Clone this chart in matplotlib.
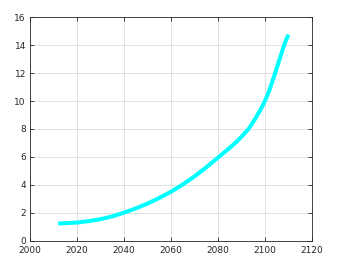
import matplotlib
matplotlib.use("Agg")
import matplotlib.pyplot as plt

years = [2012, 2015, 2020, 2025, 2030, 2035, 2040, 2045, 2050, 2055, 2060, 2065, 2070,
         2075, 2080, 2085, 2088, 2090, 2093, 2096, 2098, 2099, 2100, 2101, 2102, 2104,
         2106, 2108, 2109, 2110]
values = [1.22, 1.24, 1.29, 1.39, 1.53, 1.73, 2.0, 2.3, 2.65, 3.05, 3.5, 4.02, 4.6,
          5.25, 5.95, 6.65, 7.1, 7.45, 8.0, 8.78, 9.36, 9.68, 10.03, 10.42, 10.85, 11.85,
          12.9, 13.95, 14.4, 14.77]
xticks = [2000, 2020, 2040, 2060, 2080, 2100, 2120]
yticks = [0, 2, 4, 6, 8, 10, 12, 14, 16]

fig = plt.figure(figsize=(3.38, 2.67), dpi=100)
ax = fig.add_axes([30/338, 1 - 240.5/267, (312-30)/338, (240.5-17.5)/267])
ax.plot(years, values, color="#00ffff", lw=2.9, solid_capstyle="butt", solid_joinstyle="round")
ax.set_xlim(2000, 2120)
ax.set_ylim(0, 16)
ax.set_xticks(xticks)
ax.set_yticks(yticks)
ax.grid(True, color="#dcdcdc", lw=0.6)
ax.set_axisbelow(True)
for s in ax.spines.values():
    s.set_color("#262626")
    s.set_linewidth(0.6)
ax.tick_params(direction="in", length=3, width=0.6, colors="#262626", labelsize=6.5,
               top=True, right=True)
ax.tick_params(axis="x", pad=4)
ax.tick_params(axis="y", pad=3)
fig.savefig("out.png", dpi=100)
